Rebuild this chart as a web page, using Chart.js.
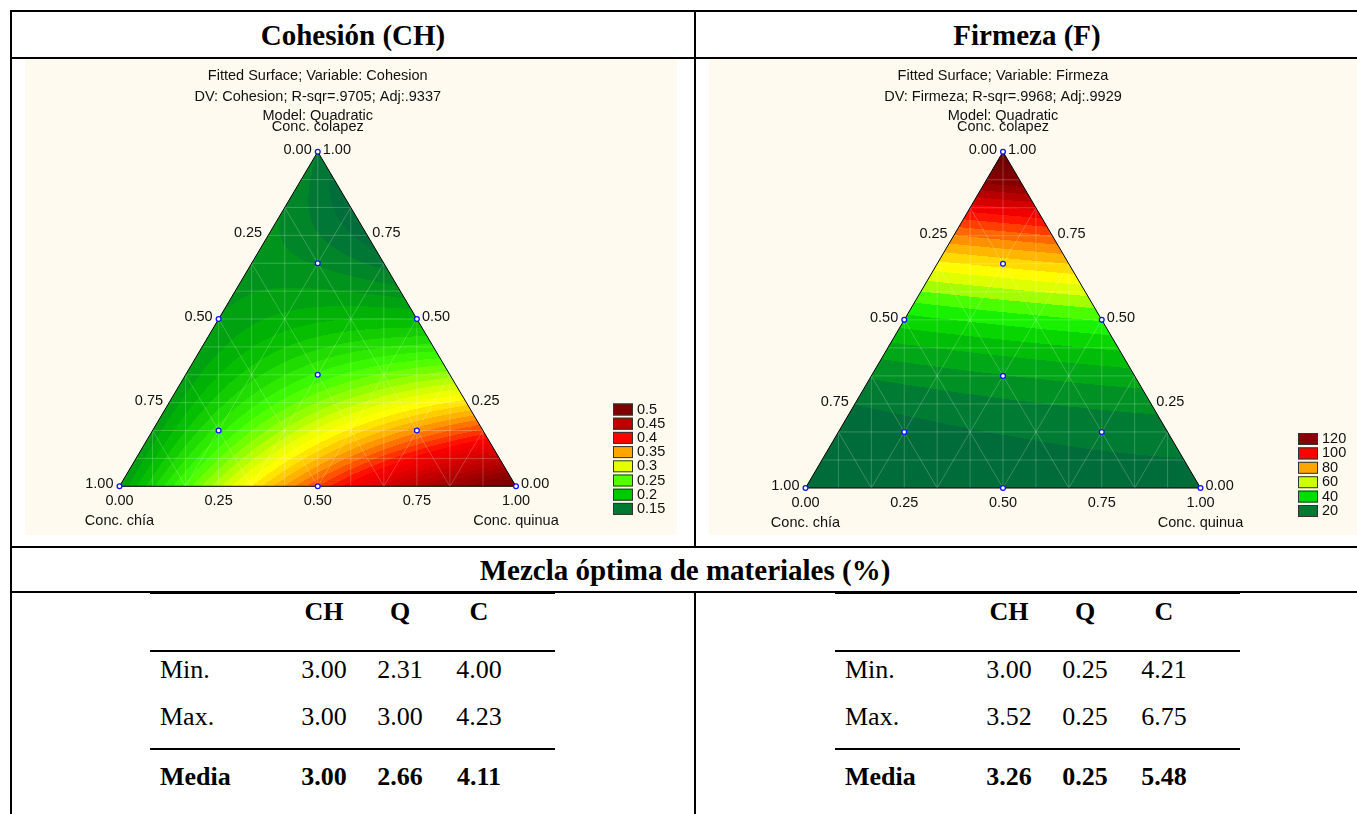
<!DOCTYPE html>
<html>
<head>
<meta charset="utf-8">
<script src="https://cdn.jsdelivr.net/npm/chart.js@4.4.1/dist/chart.umd.min.js"></script>
<style>
html,body{margin:0;padding:0;background:#fff;}
body{width:1357px;height:814px;overflow:hidden;position:relative;}
.ln{position:absolute;background:#000;}
.plotbg{position:absolute;background:#fffaf0;}
canvas{position:absolute;}
.ttl{position:absolute;font-family:"Liberation Serif","Times New Roman",serif;font-weight:bold;font-size:29px;white-space:nowrap;line-height:1;transform:translate(-50%,-50%);color:#000;}
.tx{position:absolute;font-family:"Liberation Serif","Times New Roman",serif;font-size:26px;white-space:nowrap;line-height:1;color:#000;}
.c{transform:translate(-50%,-50%);}
.l{transform:translate(0,-50%);}
.b{font-weight:bold;}
</style>
</head>
<body>
<script>
// ---------------- DATA ----------------
// Ternary components (vertex order: chía, quinua, colapez)
const componentNames = ['Conc. chía', 'Conc. quinua', 'Conc. colapez'];
const axisTicks = [0, 0.25, 0.5, 0.75, 1];

// Simplex-centroid design points (proportions)
const designChia    = [1, 0, 0, 0.5, 0.5, 0, 1/3, 2/3, 1/6, 1/6];
const designQuinua  = [0, 1, 0, 0.5, 0, 0.5, 1/3, 1/6, 2/3, 1/6];
const designColapez = [0, 0, 1, 0, 0.5, 0.5, 1/3, 1/6, 1/6, 2/3];

// Fitted (quadratic) surface values read at vertices [chía, quinua, colapez]
// and at edge midpoints [chía–quinua, chía–colapez, quinua–colapez]
const cohesionVertex = [0.18, 0.52, 0.16];
const cohesionEdge   = [0.38, 0.18, 0.20];
const firmezaVertex  = [16, 19, 145];
const firmezaEdge    = [18.5, 43, 50.5];

// Legend levels and colours
const cohesionLevels = [0.5, 0.45, 0.4, 0.35, 0.3, 0.25, 0.2, 0.15];
const cohesionLabels = ['0.5', '0.45', '0.4', '0.35', '0.3', '0.25', '0.2', '0.15'];
const cohesionColors = ['#800000', '#c00000', '#ff0000', '#ffa500', '#e6ff00', '#55ff00', '#00c800', '#007a30'];
const firmezaLevels  = [120, 100, 80, 60, 40, 20];
const firmezaLabels  = ['120', '100', '80', '60', '40', '20'];
const firmezaColors  = ['#8b0000', '#ff0000', '#ffa500', '#ccff00', '#00dd00', '#007a30'];

const cohesionTitles = ['Fitted Surface; Variable: Cohesion', 'DV: Cohesion; R-sqr=.9705; Adj:.9337', 'Model: Quadratic'];
const firmezaTitles  = ['Fitted Surface; Variable: Firmeza', 'DV: Firmeza; R-sqr=.9968; Adj:.9929', 'Model: Quadratic'];

// Optimal mixture tables (%)
const statColumns  = ['CH', 'Q', 'C'];
const statRowNames = ['Min.', 'Max.', 'Media'];
const cohesionMin  = [3.00, 2.31, 4.00];
const cohesionMax  = [3.00, 3.00, 4.23];
const cohesionMean = [3.00, 2.66, 4.11];
const firmezaMin   = [3.00, 0.25, 4.21];
const firmezaMax   = [3.52, 0.25, 6.75];
const firmezaMean  = [3.26, 0.25, 5.48];

// ---------------- LAYOUT ----------------
function el(cls, css, text) {
  const d = document.createElement('div');
  d.className = cls;
  Object.assign(d.style, css);
  if (text !== undefined) d.textContent = text;
  document.body.appendChild(d);
  return d;
}
el('plotbg', {left:'25px', top:'59px', width:'652px', height:'476px'});
el('plotbg', {left:'709px', top:'59px', width:'660px', height:'476px'});
el('ln', {left:'10px', top:'10px', width:'1370px', height:'2px'});
el('ln', {left:'10px', top:'57px', width:'1370px', height:'2px'});
el('ln', {left:'10px', top:'546px', width:'1370px', height:'2px'});
el('ln', {left:'10px', top:'591px', width:'1370px', height:'2px'});
el('ln', {left:'10px', top:'10px', width:'2px', height:'820px'});
el('ln', {left:'694px', top:'10px', width:'2px', height:'538px'});
el('ln', {left:'694px', top:'591px', width:'2px', height:'230px'});
el('ttl', {left:'353px', top:'35px'}, 'Cohesión (CH)');
el('ttl', {left:'1027px', top:'35px'}, 'Firmeza (F)');
el('ttl', {left:'685px', top:'570px'}, 'Mezcla óptima de materiales (%)');

function statTable(x0, rows) {
  el('ln', {left: x0 + 'px', top:'592px', width:'405px', height:'2px'});
  el('ln', {left: x0 + 'px', top:'650px', width:'405px', height:'2px'});
  el('ln', {left: x0 + 'px', top:'748px', width:'405px', height:'2px'});
  const colX = [x0 + 174, x0 + 250, x0 + 329];
  const rowY = [670, 717, 777];
  statColumns.forEach((c, i) => el('tx c b', {left: colX[i] + 'px', top:'612px'}, c));
  rows.forEach((vals, r) => {
    const bold = r === 2 ? ' b' : '';
    el('tx l' + bold, {left: (x0 + 10) + 'px', top: rowY[r] + 'px'}, statRowNames[r]);
    vals.forEach((v, i) => el('tx c' + bold, {left: colX[i] + 'px', top: rowY[r] + 'px'}, v.toFixed(2)));
  });
}
statTable(150, [cohesionMin, cohesionMax, cohesionMean]);
statTable(835, [firmezaMin, firmezaMax, firmezaMean]);

// ---------------- TERNARY CHARTS ----------------
function quadModel(vert, edge) {
  const b12 = 4*edge[0] - 2*vert[0] - 2*vert[1];
  const b13 = 4*edge[1] - 2*vert[0] - 2*vert[2];
  const b23 = 4*edge[2] - 2*vert[1] - 2*vert[2];
  return (h, q, c) => vert[0]*h + vert[1]*q + vert[2]*c + b12*h*q + b13*h*c + b23*q*c;
}
function hexToRgb(h) { const n = parseInt(h.slice(1), 16); return [(n>>16)&255, (n>>8)&255, n&255]; }
function makeColorMap(stops) {
  const s = stops.map(([v, c]) => [v, hexToRgb(c)]);
  return v => {
    if (v <= s[0][0]) return s[0][1];
    for (let i = 1; i < s.length; i++) {
      if (v <= s[i][0]) {
        const t = (v - s[i-1][0]) / (s[i][0] - s[i-1][0]);
        return s[i-1][1].map((a, k) => Math.round(a + (s[i][1][k] - a) * t));
      }
    }
    return s[s.length-1][1];
  };
}

const toXY = (h, q, c) => ({x: q + c/2, y: c});
const CHART_FONT = '14.5px "Liberation Sans", Arial, sans-serif';

const ternaryPlugin = {
  id: 'ternary',
  beforeDatasetsDraw(chart) {
    const cfg = chart.options.plugins.ternary;
    const {ctx} = chart;
    const xs = chart.scales.x, ys = chart.scales.y;
    const P = (h, q, c) => { const p = toXY(h, q, c); return [xs.getPixelForValue(p.x), ys.getPixelForValue(p.y)]; };
    const A = P(0,0,1), BL = P(1,0,0), BR = P(0,1,0);
    const x0 = Math.floor(BL[0]) - 1, x1 = Math.ceil(BR[0]) + 1;
    const yT = Math.floor(A[1]) - 1, yB = Math.ceil(BL[1]) + 1;
    const w = x1 - x0, hgt = yB - yT;
    const off = document.createElement('canvas');
    off.width = w; off.height = hgt;
    const octx = off.getContext('2d');
    const img = octx.createImageData(w, hgt);
    const model = quadModel(cfg.vert, cfg.edge);
    const cmap = makeColorMap(cfg.stops);
    const cache = new Map();
    for (let j = 0; j < hgt; j++) {
      const Y = ys.getValueForPixel(yT + j + 0.5);
      for (let i = 0; i < w; i++) {
        const X = xs.getValueForPixel(x0 + i + 0.5);
        const c = Y, q = X - Y/2, h = 1 - q - c;
        const v = model(h, q, c);
        const band = Math.floor(v / cfg.band);
        let col = cache.get(band);
        if (!col) { col = cmap((band + 0.5) * cfg.band); cache.set(band, col); }
        const o = (j*w + i) * 4;
        img.data[o] = col[0]; img.data[o+1] = col[1]; img.data[o+2] = col[2]; img.data[o+3] = 255;
      }
    }
    octx.putImageData(img, 0, 0);
    ctx.save();
    ctx.beginPath(); ctx.moveTo(...A); ctx.lineTo(...BR); ctx.lineTo(...BL); ctx.closePath();
    ctx.clip();
    ctx.drawImage(off, x0, yT);
    ctx.strokeStyle = cfg.meshColor; ctx.lineWidth = 1;
    const n = 12;
    ctx.beginPath();
    for (let k = 1; k < n; k++) {
      const t = k / n;
      let a = P(1-t, 0, t), b = P(0, 1-t, t); ctx.moveTo(...a); ctx.lineTo(...b);
      const xp = xs.getPixelForValue(t);
      ctx.moveTo(xp, ys.getPixelForValue(0)); ctx.lineTo(xp, ys.getPixelForValue(1));
    }
    for (let k = 1; k < 6; k++) {
      const t = k / 6;
      let a = P(0, t, 1-t), b = P(1-t, t, 0); ctx.moveTo(...a); ctx.lineTo(...b);
      a = P(t, 0, 1-t); b = P(t, 1-t, 0); ctx.moveTo(...a); ctx.lineTo(...b);
    }
    ctx.stroke();
    ctx.restore();
    ctx.save();
    ctx.strokeStyle = '#000'; ctx.lineWidth = 1;
    ctx.beginPath(); ctx.moveTo(...A); ctx.lineTo(...BR); ctx.lineTo(...BL); ctx.closePath(); ctx.stroke();
    ctx.restore();
  },
  afterDraw(chart) {
    const cfg = chart.options.plugins.ternary;
    const {ctx} = chart;
    const xs = chart.scales.x, ys = chart.scales.y;
    const P = (h, q, c) => { const p = toXY(h, q, c); return [xs.getPixelForValue(p.x), ys.getPixelForValue(p.y)]; };
    const A = P(0,0,1), BL = P(1,0,0), BR = P(0,1,0);
    ctx.save();
    ctx.fillStyle = '#111';
    ctx.font = CHART_FONT;
    ctx.textBaseline = 'middle';
    ctx.textAlign = 'center';
    ctx.fillText(cfg.titles[0], A[0], A[1] - 76);
    ctx.fillText(cfg.titles[1], A[0], A[1] - 55);
    ctx.fillText(cfg.titles[2], A[0], A[1] - 36);
    ctx.fillText(componentNames[2], A[0], A[1] - 25);
    ctx.textAlign = 'right';
    axisTicks.forEach(t => { const p = P(t, 0, 1-t); ctx.fillText(t.toFixed(2), p[0] - 6, p[1] - 2); });
    ctx.textAlign = 'left';
    axisTicks.forEach(t => { const p = P(0, 1-t, t); ctx.fillText(t.toFixed(2), p[0] + 5, p[1] - 2); });
    ctx.textAlign = 'center';
    axisTicks.forEach(t => { const p = P(1-t, t, 0); ctx.fillText(t.toFixed(2), p[0], p[1] + 15); });
    ctx.fillText(componentNames[0], BL[0], BL[1] + 35);
    ctx.fillText(componentNames[1], BR[0], BR[1] + 35);
    const lg = cfg.legend;
    ctx.textAlign = 'left';
    cfg.legendLabels.forEach((lab, i) => {
      const yc = lg.y + i * lg.step;
      ctx.fillStyle = cfg.legendColors[i];
      ctx.fillRect(lg.x, yc - 6, 20, 12);
      ctx.strokeStyle = '#333'; ctx.lineWidth = 1;
      ctx.strokeRect(lg.x + 0.5, yc - 5.5, 19, 11);
      ctx.fillStyle = '#111';
      ctx.fillText(lab, lg.x + 24, yc);
    });
    ctx.restore();
  }
};

function makeChart(left, top, width, height, cfg) {
  const cv = document.createElement('canvas');
  cv.width = width; cv.height = height;
  cv.style.left = left + 'px'; cv.style.top = top + 'px';
  cv.style.width = width + 'px'; cv.style.height = height + 'px';
  document.body.appendChild(cv);
  const pts = designChia.map((h, i) => toXY(h, designQuinua[i], designColapez[i]));
  return new Chart(cv.getContext('2d'), {
    type: 'scatter',
    data: { datasets: [{
      data: pts,
      pointRadius: 2.4,
      pointBorderColor: '#1010ff',
      pointBackgroundColor: '#ffffff',
      pointBorderWidth: 1.3,
      clip: false
    }]},
    options: {
      responsive: false, animation: false, events: [],
      devicePixelRatio: 1,
      layout: { padding: cfg.pad },
      scales: {
        x: { type: 'linear', min: 0, max: 1, display: false },
        y: { type: 'linear', min: 0, max: 1, display: false }
      },
      plugins: {
        legend: { display: false },
        tooltip: { enabled: false },
        ternary: cfg
      }
    },
    plugins: [ternaryPlugin]
  });
}

makeChart(25, 59, 652, 476, {
  vert: cohesionVertex, edge: cohesionEdge, band: 0.01,
  stops: [[0.10,'#00503a'],[0.15,'#00703a'],[0.20,'#00b800'],[0.25,'#40ff00'],[0.30,'#e6ff00'],[0.315,'#ffff00'],[0.35,'#ffa500'],[0.40,'#ff0000'],[0.45,'#c00000'],[0.50,'#800000'],[0.60,'#5a0000']],
  meshColor: 'rgba(255,255,255,0.22)',
  titles: cohesionTitles,
  legendLabels: cohesionLabels, legendColors: cohesionColors, legendLevels: cohesionLevels,
  legend: {x: 588, y: 350.5, step: 14.2},
  pad: {left: 94.5, right: 161, top: 92.7, bottom: 48.7}
});
makeChart(709, 59, 648, 476, {
  vert: firmezaVertex, edge: firmezaEdge, band: 5,
  stops: [[0,'#00503a'],[20,'#00703a'],[40,'#00c800'],[50,'#20ff00'],[60,'#ccff00'],[67,'#ffff00'],[80,'#ffa500'],[100,'#ff0000'],[120,'#8b0000'],[150,'#5a0000']],
  meshColor: 'rgba(255,255,255,0.22)',
  titles: firmezaTitles,
  legendLabels: firmezaLabels, legendColors: firmezaColors, legendLevels: firmezaLevels,
  legend: {x: 589, y: 380, step: 14.4},
  pad: {left: 96.5, right: 156.5, top: 92.7, bottom: 47}
});
</script>
</body>
</html>
